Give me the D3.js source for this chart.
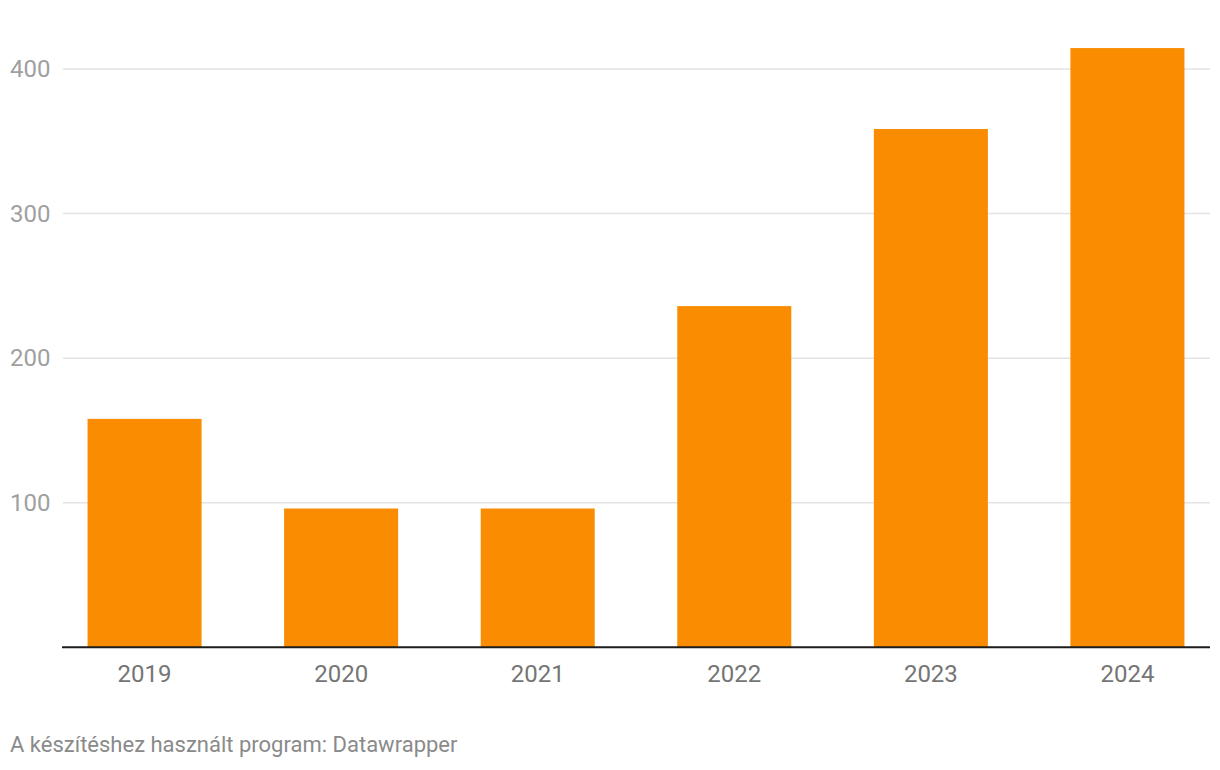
<!DOCTYPE html>
<html>
<head>
<meta charset="utf-8">
<script src="https://cdn.jsdelivr.net/npm/d3@7"></script>
<style>
  html, body { margin: 0; padding: 0; background: #fff; }
  svg { display: block; font-family: Roboto, "Noto Sans", sans-serif; }
</style>
</head>
<body>
<svg id="chart" width="1220" height="770"></svg>
<script>
const categories = ["2019", "2020", "2021", "2022", "2023", "2024"];
const values = [158, 96, 96, 236, 358.5, 414.5];
const yTicks = [100, 200, 300, 400];
const footerText = "A készítéshez használt program: Datawrapper";

(function () {
  const svg = d3.select("#chart");
  const plotLeft = 62, plotRight = 1210, plotBottom = 647.3;

  const x = d3.scaleBand()
    .domain(categories)
    .range([plotLeft, plotRight])
    .paddingInner(0.42)
    .paddingOuter(0.13);

  const y = d3.scaleLinear()
    .domain([0, 400])
    .range([plotBottom, plotBottom - 400 * 1.4457]);

  // gridlines
  svg.append("g").selectAll("line")
    .data(yTicks)
    .join("line")
    .attr("x1", 63)
    .attr("x2", plotRight)
    .attr("y1", d => y(d))
    .attr("y2", d => y(d))
    .attr("stroke", "#e3e3e3")
    .attr("stroke-width", 1.5);

  // y labels
  svg.append("g").selectAll("text")
    .data(yTicks)
    .join("text")
    .attr("x", 10)
    .attr("y", d => y(d))
    .attr("dy", "0.33em")
    .attr("fill", "#a0a0a0")
    .attr("font-size", 24)
    .text(d => d);

  // bars
  svg.append("g").selectAll("rect")
    .data(values)
    .join("rect")
    .attr("x", (d, i) => x(categories[i]))
    .attr("width", x.bandwidth())
    .attr("y", d => y(d))
    .attr("height", d => y(0) - y(d))
    .attr("fill", "#f98c00");

  // baseline axis
  const xAxis = d3.axisBottom(x).tickSize(0).tickPadding(18);
  const ax = svg.append("g")
    .attr("transform", `translate(0,${y(0)})`)
    .call(xAxis);
  ax.select(".domain")
    .attr("stroke", "#1d1d1d")
    .attr("stroke-width", 2)
    .attr("d", `M${plotLeft},0H${plotRight}`);
  ax.selectAll("text")
    .attr("fill", "#757575")
    .attr("font-size", 24)
    .attr("font-family", "Roboto, sans-serif");

  // footer
  svg.append("text")
    .attr("x", 10)
    .attr("y", 752)
    .attr("fill", "#8a8a8a")
    .attr("font-size", 22)
    .text(footerText);
})();
</script>
</body>
</html>
